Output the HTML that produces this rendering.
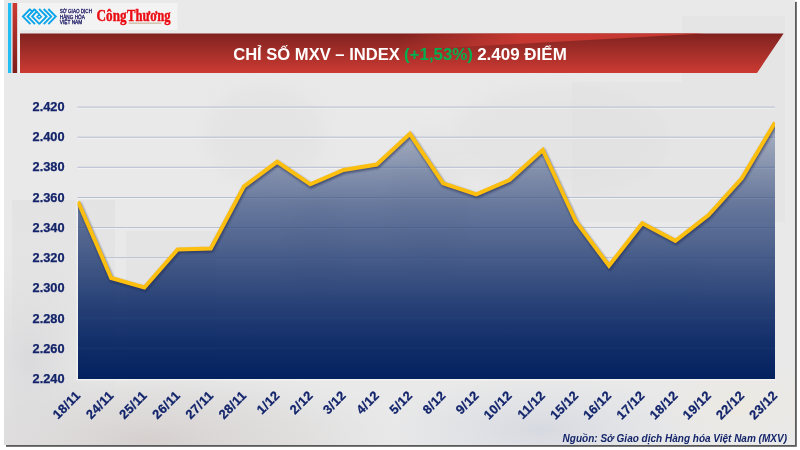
<!DOCTYPE html>
<html lang="vi">
<head>
<meta charset="utf-8">
<title>Chỉ số MXV – Index</title>
<style>
html,body{margin:0;padding:0;background:#fff;}
body{width:800px;height:450px;overflow:hidden;position:relative;font-family:"Liberation Sans",sans-serif;}
svg{position:absolute;left:0;top:0;display:block;}
.ylab text{font:bold 12.4px "Liberation Sans",sans-serif;fill:#14246a;text-anchor:end;stroke:#14246a;stroke-width:0.25;}
.xlab text{font:bold 12.8px "Liberation Sans",sans-serif;fill:#12246b;stroke:#12246b;stroke-width:0.25;letter-spacing:0.35px;}
.grid line{stroke:#b6bed0;stroke-width:1;}
.gridhl line{stroke:#f3f3f3;stroke-width:1;}
.grid2 line{stroke:#c5cde0;stroke-width:0.9;stroke-opacity:0.08;}
.title{font:bold 16px "Liberation Sans",sans-serif;fill:#fff;}
.src{font:italic bold 10.5px "Liberation Sans",sans-serif;fill:#14246a;}
.mx{font:4.9px "Liberation Sans",sans-serif;fill:#25226a;stroke:#25226a;stroke-width:0.28;}
</style>
</head>
<body>
<svg width="800" height="450" viewBox="0 0 800 450">
<defs>
<linearGradient id="gban" x1="0" y1="0" x2="0" y2="1">
<stop offset="0" stop-color="#801f1b"/><stop offset="0.12" stop-color="#892622"/><stop offset="1" stop-color="#cc3a33"/>
</linearGradient>
<radialGradient id="rg1" gradientUnits="userSpaceOnUse" cx="150" cy="440" r="1" gradientTransform="translate(150,440) scale(260,75) translate(-150,-440)">
<stop offset="0" stop-color="#d2ccca" stop-opacity="0.85"/><stop offset="0.6" stop-color="#d8d5d4" stop-opacity="0.5"/><stop offset="1" stop-color="#dedddd" stop-opacity="0"/>
</radialGradient>
<radialGradient id="rg2" gradientUnits="userSpaceOnUse" cx="30" cy="360" r="1" gradientTransform="translate(30,360) scale(70,110) translate(-30,-360)">
<stop offset="0" stop-color="#d6d6d9" stop-opacity="0.8"/><stop offset="1" stop-color="#dddddf" stop-opacity="0"/>
</radialGradient>
<radialGradient id="rg3" gradientUnits="userSpaceOnUse" cx="540" cy="430" r="1" gradientTransform="translate(540,430) scale(170,55) translate(-540,-430)">
<stop offset="0" stop-color="#d2d5de" stop-opacity="0.8"/><stop offset="1" stop-color="#dcdee4" stop-opacity="0"/>
</radialGradient>
<radialGradient id="rg4" gradientUnits="userSpaceOnUse" cx="740" cy="405" r="1" gradientTransform="translate(740,405) scale(90,45) translate(-740,-405)">
<stop offset="0" stop-color="#ede9e0" stop-opacity="0.9"/><stop offset="1" stop-color="#ebe8e2" stop-opacity="0"/>
</radialGradient>
<linearGradient id="lgL" x1="0" y1="0" x2="0" y2="1">
<stop offset="0" stop-color="#dcdcdc" stop-opacity="0.45"/><stop offset="0.5" stop-color="#dcdcdc" stop-opacity="0.3"/><stop offset="1" stop-color="#dcdcdc" stop-opacity="0"/>
</linearGradient>
<linearGradient id="gwedge" gradientUnits="userSpaceOnUse" x1="400" y1="0" x2="520" y2="0">
<stop offset="0" stop-color="#c63831" stop-opacity="0"/><stop offset="1" stop-color="#c63831" stop-opacity="1"/>
</linearGradient>
<linearGradient id="gbar" x1="0" y1="0" x2="0" y2="1">
<stop offset="0" stop-color="#cc3a33"/><stop offset="1" stop-color="#7c1d1b"/>
</linearGradient>
<linearGradient id="garea" gradientUnits="userSpaceOnUse" x1="0" y1="107" x2="0" y2="379">
<stop offset="0" stop-color="#052362" stop-opacity="0.2"/><stop offset="0.143" stop-color="#052362" stop-opacity="0.344"/><stop offset="0.357" stop-color="#052362" stop-opacity="0.568"/><stop offset="0.504" stop-color="#052362" stop-opacity="0.674"/><stop offset="0.724" stop-color="#052362" stop-opacity="0.846"/><stop offset="0.871" stop-color="#052362" stop-opacity="0.943"/><stop offset="1" stop-color="#03215e" stop-opacity="1"/>
</linearGradient>
<filter id="sh" x="-5%" y="-5%" width="110%" height="110%"><feGaussianBlur stdDeviation="0.6"/></filter>
<filter id="lsh" x="-5%" y="-20%" width="110%" height="140%"><feGaussianBlur stdDeviation="1"/></filter>
<filter id="blur8" filterUnits="userSpaceOnUse" x="0" y="0" width="800" height="450"><feGaussianBlur stdDeviation="7"/></filter>
<clipPath id="plot"><rect x="77.5" y="100" width="697.5" height="279.5"/></clipPath>
<clipPath id="card"><rect x="4" y="0" width="791" height="445"/></clipPath>
</defs>
<rect x="0" y="0" width="800" height="450" fill="#fff"/>
<rect x="6" y="1.8" width="790.8" height="445" fill="#5a5a5a" filter="url(#sh)"/>
<rect x="4" y="0" width="791" height="445" fill="#e9e9e9"/>
<!-- background texture -->
<g clip-path="url(#card)">
<g fill="#e0e0e0" opacity="0.45" filter="url(#blur8)">
<ellipse cx="265" cy="135" rx="60" ry="50"/>
<ellipse cx="315" cy="245" rx="28" ry="50"/>
<ellipse cx="430" cy="200" rx="40" ry="70"/>
<ellipse cx="560" cy="140" rx="110" ry="55"/>
<ellipse cx="670" cy="280" rx="35" ry="22"/>
</g>
<rect x="4" y="300" width="400" height="145" fill="url(#rg1)"/>
<rect x="4" y="250" width="120" height="195" fill="url(#rg2)"/>
<rect x="400" y="340" width="395" height="105" fill="url(#rg3)"/>
<rect x="600" y="340" width="195" height="105" fill="url(#rg4)"/>
<rect x="12" y="200" width="103" height="245" fill="url(#lgL)"/>
<rect x="126" y="231" width="90" height="150" fill="#dcdcdc" opacity="0.35"/>
<rect x="572" y="82" width="213" height="140" fill="#dddddd" opacity="0.3"/>
<rect x="682" y="16" width="103" height="66" fill="#dfdfdf" opacity="0.3"/>
</g>
<!-- header -->
<rect x="8" y="3" width="3.2" height="70" fill="#22bdf2"/>
<rect x="12.6" y="3" width="4.8" height="70" fill="url(#gbar)"/>
<rect x="17.4" y="3" width="2.6" height="70" fill="#eef3f4"/>
<rect x="20" y="3" width="157.5" height="27" fill="#f3f3f3"/>
<path d="M20,33.6 H783.6 L757,73 H20 Z" fill="url(#gban)"/>
<path d="M380,33.6 H705 L380,51.5 Z" fill="url(#gwedge)"/>
<text class="title" x="233.2" y="59.8" textLength="166.6" lengthAdjust="spacingAndGlyphs">CHỈ SỐ MXV – INDEX</text>
<text class="title" x="404" y="59.8" textLength="69" lengthAdjust="spacingAndGlyphs" style="fill:#00b050">(+1,53%)</text>
<text class="title" x="477.2" y="59.8" textLength="89.6" lengthAdjust="spacingAndGlyphs">2.409 ĐIỂM</text>
<!-- logos -->
<g id="mxv" fill="none" stroke="#0aa5ea" stroke-width="1.85" stroke-linejoin="miter">
<path d="M30.2,9 L22.9,16.5 L30.4,24.2"/>
<path d="M34.8,9 L27.5,16.5 L35,24.2"/>
<path d="M36.6,11.6 L32.1,16.5 L39.6,24.2"/>
<path d="M29.7,9.2 L32.6,12.1"/>
<path d="M34.3,9.2 L37.2,12.1"/>
<path d="M39.1,9 L46.6,16.5 L39.1,24.2"/>
<path d="M43.7,9 L51.2,16.5 L43.7,24.2"/>
<path d="M48.3,9 L55.8,16.5 L48.3,24.2"/>
<path d="M39.2,14.6 L41.3,16.7 L39.2,18.8 L37.1,16.7 Z" stroke-width="1.5"/>
<path d="M36.6,11.6 L39.8,14.8" stroke-width="1.5"/>
</g>
<text class="mx" x="59.8" y="13.3" textLength="32.2" lengthAdjust="spacingAndGlyphs">SỞ GIAO DỊCH</text>
<text class="mx" x="59.8" y="18.8" textLength="25" lengthAdjust="spacingAndGlyphs">HÀNG HÓA</text>
<text class="mx" x="59.8" y="24.3" textLength="22.5" lengthAdjust="spacingAndGlyphs">VIỆT NAM</text>
<rect x="128.8" y="22.5" width="32.6" height="1.4" fill="#c9b49a" opacity="0.85"/>
<text x="96.6" y="20.7" textLength="30" lengthAdjust="spacingAndGlyphs" style="font:bold 17.4px 'Liberation Serif',serif;fill:#ec0c14;stroke:#ec0c14;stroke-width:0.45">Công</text>
<text x="127" y="20.7" textLength="43.6" lengthAdjust="spacingAndGlyphs" style="font:bold 17.4px 'Liberation Serif',serif;fill:#ec0c14;stroke:#ec0c14;stroke-width:0.45">Thương</text>
<!-- chart -->
<g class="gridhl" transform="translate(0,1)">
<line x1="77.5" x2="775.0" y1="348.1" y2="348.1"/>
<line x1="77.5" x2="775.0" y1="318.0" y2="318.0"/>
<line x1="77.5" x2="775.0" y1="287.8" y2="287.8"/>
<line x1="77.5" x2="775.0" y1="257.7" y2="257.7"/>
<line x1="77.5" x2="775.0" y1="227.6" y2="227.6"/>
<line x1="77.5" x2="775.0" y1="197.5" y2="197.5"/>
<line x1="77.5" x2="775.0" y1="167.3" y2="167.3"/>
<line x1="77.5" x2="775.0" y1="137.2" y2="137.2"/>
<line x1="77.5" x2="775.0" y1="107.1" y2="107.1"/>
</g>
<g class="grid">
<line x1="77.5" x2="775.0" y1="348.1" y2="348.1"/>
<line x1="77.5" x2="775.0" y1="318.0" y2="318.0"/>
<line x1="77.5" x2="775.0" y1="287.8" y2="287.8"/>
<line x1="77.5" x2="775.0" y1="257.7" y2="257.7"/>
<line x1="77.5" x2="775.0" y1="227.6" y2="227.6"/>
<line x1="77.5" x2="775.0" y1="197.5" y2="197.5"/>
<line x1="77.5" x2="775.0" y1="167.3" y2="167.3"/>
<line x1="77.5" x2="775.0" y1="137.2" y2="137.2"/>
<line x1="77.5" x2="775.0" y1="107.1" y2="107.1"/>
</g>
<rect x="76.6" y="200" width="1.2" height="180" fill="#f4f4f4"/>
<rect x="76.6" y="379" width="699" height="1.3" fill="#f4f4f4"/>
<g clip-path="url(#plot)">
<path d="M78.0,379.0 L78.0,201.5 L111.2,278.0 L144.4,287.5 L177.6,249.5 L210.8,248.5 L244.0,186.3 L277.1,161.8 L310.3,184.3 L343.5,170.0 L376.7,164.5 L409.9,133.8 L443.1,183.3 L476.3,194.3 L509.5,180.0 L542.7,150.0 L575.9,221.3 L609.0,265.8 L642.2,223.3 L675.4,240.8 L708.6,215.0 L741.8,178.3 L775.0,122.6 L775.0,379.0 Z" fill="url(#garea)"/>
<g class="grid2">
<line x1="77.5" x2="775.0" y1="348.1" y2="348.1"/>
<line x1="77.5" x2="775.0" y1="318.0" y2="318.0"/>
<line x1="77.5" x2="775.0" y1="287.8" y2="287.8"/>
<line x1="77.5" x2="775.0" y1="257.7" y2="257.7"/>
<line x1="77.5" x2="775.0" y1="227.6" y2="227.6"/>
<line x1="77.5" x2="775.0" y1="197.5" y2="197.5"/>
<line x1="77.5" x2="775.0" y1="167.3" y2="167.3"/>
<line x1="77.5" x2="775.0" y1="137.2" y2="137.2"/>
<line x1="77.5" x2="775.0" y1="107.1" y2="107.1"/>
</g>
<polyline points="78.0,201.5 111.2,278.0 144.4,287.5 177.6,249.5 210.8,248.5 244.0,186.3 277.1,161.8 310.3,184.3 343.5,170.0 376.7,164.5 409.9,133.8 443.1,183.3 476.3,194.3 509.5,180.0 542.7,150.0 575.9,221.3 609.0,265.8 642.2,223.3 675.4,240.8 708.6,215.0 741.8,178.3 775.0,122.6" fill="none" stroke="#1a2550" stroke-opacity="0.6" stroke-width="4.4" stroke-linejoin="miter" transform="translate(0.8,1.6)" filter="url(#lsh)"/>
<polyline points="78.0,201.5 111.2,278.0 144.4,287.5 177.6,249.5 210.8,248.5 244.0,186.3 277.1,161.8 310.3,184.3 343.5,170.0 376.7,164.5 409.9,133.8 443.1,183.3 476.3,194.3 509.5,180.0 542.7,150.0 575.9,221.3 609.0,265.8 642.2,223.3 675.4,240.8 708.6,215.0 741.8,178.3 775.0,122.6" fill="none" stroke="#fcbf10" stroke-width="4" stroke-linejoin="miter"/>
</g>
<g class="ylab">
<text x="64.6" y="382.9" textLength="32" lengthAdjust="spacingAndGlyphs">2.240</text>
<text x="64.6" y="352.7" textLength="32" lengthAdjust="spacingAndGlyphs">2.260</text>
<text x="64.6" y="322.5" textLength="32" lengthAdjust="spacingAndGlyphs">2.280</text>
<text x="64.6" y="292.3" textLength="32" lengthAdjust="spacingAndGlyphs">2.300</text>
<text x="64.6" y="262.1" textLength="32" lengthAdjust="spacingAndGlyphs">2.320</text>
<text x="64.6" y="231.8" textLength="32" lengthAdjust="spacingAndGlyphs">2.340</text>
<text x="64.6" y="201.6" textLength="32" lengthAdjust="spacingAndGlyphs">2.360</text>
<text x="64.6" y="171.4" textLength="32" lengthAdjust="spacingAndGlyphs">2.380</text>
<text x="64.6" y="141.2" textLength="32" lengthAdjust="spacingAndGlyphs">2.400</text>
<text x="64.6" y="111.0" textLength="32" lengthAdjust="spacingAndGlyphs">2.420</text>
</g>
<g class="xlab">
<text transform="translate(81.4,396.3) rotate(-45)" text-anchor="end">18/11</text>
<text transform="translate(114.6,396.3) rotate(-45)" text-anchor="end">24/11</text>
<text transform="translate(147.8,396.3) rotate(-45)" text-anchor="end">25/11</text>
<text transform="translate(181.0,396.3) rotate(-45)" text-anchor="end">26/11</text>
<text transform="translate(214.2,396.3) rotate(-45)" text-anchor="end">27/11</text>
<text transform="translate(247.4,396.3) rotate(-45)" text-anchor="end">28/11</text>
<text transform="translate(280.5,396.3) rotate(-45)" text-anchor="end">1/12</text>
<text transform="translate(313.7,396.3) rotate(-45)" text-anchor="end">2/12</text>
<text transform="translate(346.9,396.3) rotate(-45)" text-anchor="end">3/12</text>
<text transform="translate(380.1,396.3) rotate(-45)" text-anchor="end">4/12</text>
<text transform="translate(413.3,396.3) rotate(-45)" text-anchor="end">5/12</text>
<text transform="translate(446.5,396.3) rotate(-45)" text-anchor="end">8/12</text>
<text transform="translate(479.7,396.3) rotate(-45)" text-anchor="end">9/12</text>
<text transform="translate(512.9,396.3) rotate(-45)" text-anchor="end">10/12</text>
<text transform="translate(546.1,396.3) rotate(-45)" text-anchor="end">11/12</text>
<text transform="translate(579.3,396.3) rotate(-45)" text-anchor="end">15/12</text>
<text transform="translate(612.4,396.3) rotate(-45)" text-anchor="end">16/12</text>
<text transform="translate(645.6,396.3) rotate(-45)" text-anchor="end">17/12</text>
<text transform="translate(678.8,396.3) rotate(-45)" text-anchor="end">18/12</text>
<text transform="translate(712.0,396.3) rotate(-45)" text-anchor="end">19/12</text>
<text transform="translate(745.2,396.3) rotate(-45)" text-anchor="end">22/12</text>
<text transform="translate(778.4,396.3) rotate(-45)" text-anchor="end">23/12</text>
</g>
<text class="src" x="562.6" y="442.3" textLength="224.4" lengthAdjust="spacingAndGlyphs">Nguồn: Sở Giao dịch Hàng hóa Việt Nam (MXV)</text>
</svg>
</body>
</html>
